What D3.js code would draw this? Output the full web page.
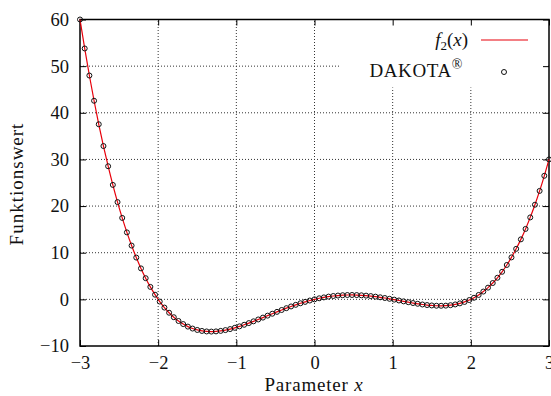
<!DOCTYPE html>
<html>
<head>
<meta charset="utf-8">
<script src="https://cdn.jsdelivr.net/npm/d3@7"></script>
<style>
  body { margin: 0; background: #fff; }
  svg text { font-family: 'Liberation Serif', 'DejaVu Serif', serif; fill: #111; }
</style>
</head>
<body>
<div id="chart"></div>
<script>
// sample positions of the DAKOTA evaluations
const xValues = [
  -3.00, -2.94, -2.88, -2.82, -2.76, -2.70, -2.64, -2.58, -2.52, -2.46,
  -2.40, -2.34, -2.28, -2.22, -2.16, -2.10, -2.04, -1.98, -1.92, -1.86,
  -1.80, -1.74, -1.68, -1.62, -1.56, -1.50, -1.44, -1.38, -1.32, -1.26,
  -1.20, -1.14, -1.08, -1.02, -0.96, -0.90, -0.84, -0.78, -0.72, -0.66,
  -0.60, -0.54, -0.48, -0.42, -0.36, -0.30, -0.24, -0.18, -0.12, -0.06,
   0.00,  0.06,  0.12,  0.18,  0.24,  0.30,  0.36,  0.42,  0.48,  0.54,
   0.60,  0.66,  0.72,  0.78,  0.84,  0.90,  0.96,  1.02,  1.08,  1.14,
   1.20,  1.26,  1.32,  1.38,  1.44,  1.50,  1.56,  1.62,  1.68,  1.74,
   1.80,  1.86,  1.92,  1.98,  2.04,  2.10,  2.16,  2.22,  2.28,  2.34,
   2.40,  2.46,  2.52,  2.58,  2.64,  2.70,  2.76,  2.82,  2.88,  2.94,
   3.00
];

// function values
const fValues = [
  60.00, 53.79, 47.99, 42.58, 37.54, 32.87, 28.54, 24.54, 20.85, 17.46,
  14.36, 11.53,  8.96,  6.64,  4.54,  2.67,  1.00, -0.47, -1.76, -2.87,
  -3.83, -4.64, -5.30, -5.84, -6.26, -6.56, -6.77, -6.88, -6.91, -6.87,
  -6.76, -6.59, -6.37, -6.10, -5.79, -5.45, -5.09, -4.71, -4.31, -3.91,
  -3.49, -3.08, -2.68, -2.28, -1.89, -1.52, -1.17, -0.84, -0.54, -0.25,
   0.00,  0.23,  0.42,  0.59,  0.72,  0.82,  0.89,  0.93,  0.94,  0.92,
   0.87,  0.80,  0.70,  0.58,  0.44,  0.29,  0.12, -0.06, -0.24, -0.43,
  -0.61, -0.79, -0.95, -1.10, -1.22, -1.31, -1.37, -1.38, -1.35, -1.25,
  -1.09, -0.86, -0.55, -0.15,  0.34,  0.95,  1.67,  2.51,  3.50,  4.63,
   5.91,  7.37,  9.00, 10.83, 12.86, 15.10, 17.57, 20.29, 23.25, 26.49,
  30.00
];

const xTicks = [-3, -2, -1, 0, 1, 2, 3];
const yTicks = [-10, 0, 10, 20, 30, 40, 50, 60];

const cfg = {
  width: 551,
  height: 396,
  margin: { left: 80, right: 2, top: 19.5, bottom: 50 }
};

const data = xValues.map((x, i) => ({ x: x, y: fValues[i] }));
const fmt = d => (d < 0 ? '\u2212' + Math.abs(d) : String(d));

const svg = d3.select('#chart')
  .append('svg')
  .attr('width', cfg.width)
  .attr('height', cfg.height);

const xScale = d3.scaleLinear([-3, 3], [cfg.margin.left, cfg.width - cfg.margin.right]);
const yScale = d3.scaleLinear([-10, 60], [cfg.height - cfg.margin.bottom, cfg.margin.top]);

const x0 = xScale.range()[0], x1 = xScale.range()[1];
const y0 = yScale.range()[0], y1 = yScale.range()[1];

// gridlines (dotted)
const grid = svg.append('g').attr('class', 'gridlines');
grid.selectAll('line.gx')
  .data(xTicks.slice(1, -1))
  .join('line')
  .attr('class', 'gx')
  .attr('x1', d => xScale(d)).attr('x2', d => xScale(d))
  .attr('y1', y0).attr('y2', y1);
grid.selectAll('line.gy')
  .data(yTicks.slice(1, -1))
  .join('line')
  .attr('class', 'gy')
  .attr('x1', x0).attr('x2', x1)
  .attr('y1', d => yScale(d)).attr('y2', d => yScale(d));
grid.selectAll('line')
  .style('stroke', '#333')
  .style('stroke-width', 1)
  .style('stroke-dasharray', '1,2');

// legend background hides the grid
svg.append('rect')
  .attr('x', 341).attr('y', y1)
  .attr('width', x1 - 343).attr('height', 68)
  .style('fill', '#fff');

// axes with inward ticks, mirrored
const tickLen = 6;
const xAxisB = d3.axisBottom(xScale).tickValues(xTicks).tickFormat(fmt).tickSizeInner(-tickLen).tickSizeOuter(0).tickPadding(10);
const xAxisT = d3.axisTop(xScale).tickValues(xTicks).tickFormat('').tickSizeInner(-tickLen).tickSizeOuter(0);
const yAxisL = d3.axisLeft(yScale).tickValues(yTicks).tickFormat(fmt).tickSizeInner(-tickLen).tickSizeOuter(0).tickPadding(11);
const yAxisR = d3.axisRight(yScale).tickValues(yTicks).tickFormat('').tickSizeInner(-tickLen).tickSizeOuter(0);

const axes = [
  svg.append('g').attr('transform', `translate(0, ${y0})`).call(xAxisB),
  svg.append('g').attr('transform', `translate(0, ${y1})`).call(xAxisT),
  svg.append('g').attr('transform', `translate(${x0}, 0)`).call(yAxisL),
  svg.append('g').attr('transform', `translate(${x1}, 0)`).call(yAxisR)
];
axes.forEach(a => {
  a.select('.domain').remove();
  a.selectAll('.tick line').style('stroke', '#000').style('stroke-width', 1);
  a.selectAll('.tick text')
    .style('font-size', '18.5px')
    .style('font-family', "'Liberation Serif', serif")
    .attr('fill', '#222');
});

// frame
svg.append('rect')
  .attr('x', x0).attr('y', y1)
  .attr('width', x1 - x0).attr('height', y0 - y1)
  .style('fill', 'none')
  .style('stroke', '#000')
  .style('stroke-width', 1.5);

// the function line
const line = d3.line()
  .x(d => xScale(d.x))
  .y(d => yScale(d.y))
  .curve(d3.curveMonotoneX);

svg.append('path')
  .datum(data)
  .attr('d', line)
  .style('fill', 'none')
  .style('stroke', '#e8000b')
  .style('stroke-width', 1.2);

// DAKOTA points
svg.append('g')
  .selectAll('circle')
  .data(data)
  .join('circle')
  .attr('cx', d => xScale(d.x))
  .attr('cy', d => yScale(d.y))
  .attr('r', 2.5)
  .style('fill', 'none')
  .style('stroke', '#111')
  .style('stroke-width', 1);

// axis labels
svg.append('text')
  .attr('x', 314)
  .attr('y', 391)
  .attr('text-anchor', 'middle')
  .style('font-size', '19px')
  .style('letter-spacing', '0.8px')
  .html('Parameter <tspan font-style="italic">x</tspan>');

svg.append('text')
  .attr('transform', `translate(23, 184) rotate(-90)`)
  .attr('text-anchor', 'middle')
  .style('font-size', '19px')
  .style('letter-spacing', '1px')
  .text('Funktionswert');

// legend
const legend = svg.append('g').attr('class', 'legend');
legend.append('text')
  .attr('x', 468).attr('y', 46)
  .attr('text-anchor', 'end')
  .style('font-size', '19px')
  .html('<tspan font-style="italic">f</tspan><tspan dy="4" font-size="13px">2</tspan><tspan dy="-4">(</tspan><tspan font-style="italic">x</tspan>)');
legend.append('line')
  .attr('x1', 481).attr('x2', 528)
  .attr('y1', 40).attr('y2', 40)
  .style('stroke', '#e8000b')
  .style('stroke-width', 1.2);

legend.append('text')
  .attr('x', 463).attr('y', 77)
  .attr('text-anchor', 'end')
  .style('font-size', '19px')
  .style('letter-spacing', '0.6px')
  .html('DAKOTA<tspan dy="-8" font-size="14px">®</tspan>');
legend.append('circle')
  .attr('cx', 504).attr('cy', 72)
  .attr('r', 2.5)
  .style('fill', 'none')
  .style('stroke', '#111')
  .style('stroke-width', 1);
</script>
</body>
</html>
